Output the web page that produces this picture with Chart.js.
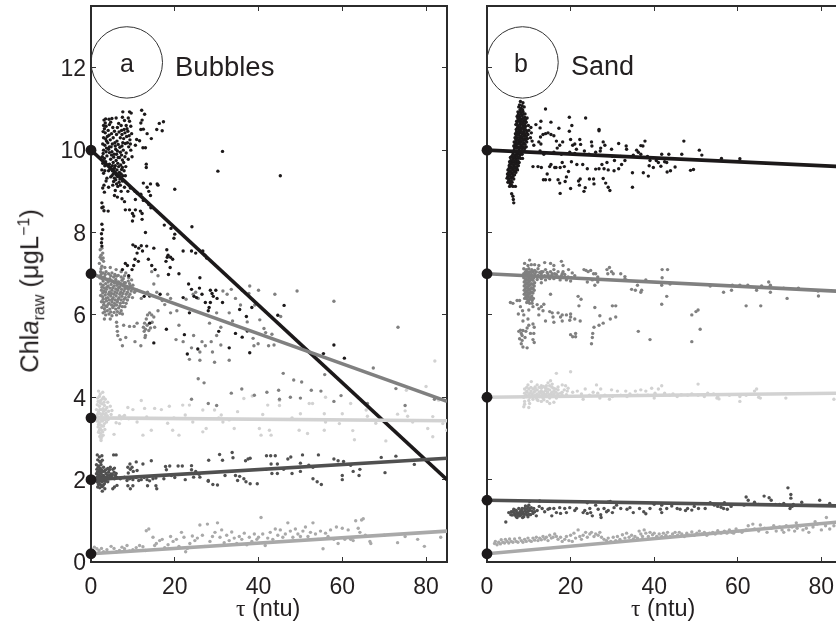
<!DOCTYPE html>
<html lang="en">

<head>
  <meta charset="UTF-8" />
  <title>Chla raw vs turbidity</title>
  <script src="https://cdn.jsdelivr.net/npm/chart.js"></script>
  <style>
    html, body { margin: 0; background: #fff; overflow: hidden; }
    body { width: 836px; height: 624px; position: relative; font-family: "Liberation Sans", sans-serif; color: #231f20; }
    canvas { position: absolute; top: 0; }
    .txt { position: absolute; white-space: nowrap; line-height: 1; }
    .tau { font-family: "Liberation Serif", serif; }
    sub, sup { font-size: 16px; line-height: 0; }
  </style>
</head>

<body>
  <canvas id="bubbles" width="460" height="624" style="left:0"></canvas>
  <canvas id="sand" width="366" height="624" style="left:470px"></canvas>

  <div class="txt" style="left:120px;top:51px;font-size:25px">a</div>
  <div class="txt" style="left:175px;top:53px;font-size:27.5px">Bubbles</div>
  <div class="txt" style="left:514px;top:51px;font-size:25px">b</div>
  <div class="txt" style="left:571px;top:53px;font-size:27px">Sand</div>
  <div class="txt" style="left:236px;top:597px;font-size:23.5px"><span class="tau">τ</span> (ntu)</div>
  <div class="txt" style="left:631px;top:597px;font-size:23.5px"><span class="tau">τ</span> (ntu)</div>
  <div class="txt" style="left:30px;top:291px;font-size:25.5px;transform:translate(-50%,-50%) rotate(-90deg)">Chl<i>a</i><sub>raw</sub> (μgL<sup>−1</sup>)</div>

  <script>
    const xTicksMax = 85;
    const sandXMax = 83.5;
    const yMax = 13.5;

    // fitted lines, [tau, chla] at both ends
    const aLineBlack = [[0, 10], [85, 2]];
    const aLineGray = [[0, 7], [85, 3.9]];
    const aLineLight = [[0, 3.5], [85, 3.43]];
    const aLineDark = [[0, 2], [85, 2.52]];
    const aLineMid = [[0, 0.2], [85, 0.75]];
    const bLineBlack = [[0, 10], [85, 9.6]];
    const bLineGray = [[0, 7], [85, 6.57]];
    const bLineLight = [[0, 4], [85, 4.1]];
    const bLineDark = [[0, 1.5], [85, 1.36]];
    const bLineMid = [[0, 0.2], [85, 0.98]];

    const aStarts = [[0, 10], [0, 7], [0, 3.5], [0, 2], [0, 0.2]];
    const bStarts = [[0, 10], [0, 7], [0, 4], [0, 1.5], [0, 0.2]];
    const aCircle = [[8.55, 12.13]];
    const bCircle = [[8.5, 12.13]];

    // panel a, bubbles
    const aBlack = [
      [7.6,10.93],[9.2,10.93],[9.6,10.9],[12.1,10.97],[12.8,10.87],[12.2,10.73],[11.9,10.66],[12.5,10.51],[11.9,10.5],[16.3,10.65],[17.3,10.69],[15.7,10.5],[17,10.47],
      [13.4,10.4],[14.4,10.28],[10.9,10.26],[11.6,10.23],[10.6,10.12],[12.4,10.06],[13,10.06],[9.8,9.84],[13.2,9.66],[13.2,9.58],[31.4,9.97],[30.3,9.49],[45.2,9.38],
      [3.1,10.73],[3.5,10.76],[4.3,10.75],[5,10.77],[6,10.78],[7.5,10.8],[8,10.72],[8.9,10.78],[9.2,10.7],[3,10.6],[3.6,10.58],[4.4,10.62],[5.2,10.55],[6.6,10.65],[7.2,10.6],[8.4,10.6],[9.5,10.58],
      [2.9,10.45],[3.4,10.42],[4.1,10.48],[4.9,10.4],[5.6,10.46],[6.7,10.44],[7.3,10.48],[8.1,10.42],[8.8,10.46],[9.7,10.4],[3,10.3],[3.5,10.27],[3.9,10.33],[4.6,10.25],[5.3,10.3],[6.2,10.22],[7,10.3],[7.8,10.28],[8.5,10.33],[9.3,10.25],
      [2.8,10.15],[3.3,10.12],[4,10.18],[4.4,10.08],[5.1,10.15],[5.8,10.1],[6.5,10.14],[7.4,10.1],[8.2,10.16],[9,10.08],[3,10],[3.6,9.96],[4.2,10.02],[5,9.96],[5.5,9.9],[6.3,9.98],[7,9.95],[7.7,10],[8.4,9.93],
      [2.7,9.84],[3.2,9.8],[3.8,9.86],[4.7,9.78],[5.4,9.83],[6,9.75],[6.8,9.82],[7.5,9.76],[2.8,9.68],[3.3,9.62],[4.4,9.66],[5.3,9.7],[5.8,9.62],[6.4,9.68],[7.1,9.64],[7.8,9.7],[2.6,9.52],[3,9.44],
      [4.6,9.55],[5.1,9.5],[5.7,9.45],[6.2,9.52],[6.8,9.46],[7.3,9.53],[5,9.38],[5.6,9.32],[6.3,9.36],[6.9,9.3],[7.6,9.38],[5.4,9.24],[6.1,9.18],[6.7,9.22],[12.5,9.2],[13.4,9.1],[14.2,9.18],[15.8,9.18],[20,9.05],[16,9.15],
      [3.1,9.15],[2.8,9.08],[4.2,9.1],[3.2,8.98],[5.8,9.02],[7.2,9],[8,9.1],[8.8,9],[9.4,9.08],[10.5,9],[11,8.96],[11.9,8.93],[13.8,9],[14.2,8.9],[5.6,8.9],[6.3,8.86],[7.4,8.82],[8,8.75],[10.6,8.8],[12.5,8.78],[13.8,8.68],[14.3,8.6],
      [2.6,8.72],[2.9,8.62],[2.6,8.6],[3.1,8.53],[4.1,8.52],[8.2,8.55],[9.2,8.55],[10.6,8.55],[11.8,8.52],[12.2,8.46],[9.9,8.46],[10.2,8.4],[12.2,8.32],[9.9,8.28],
      [2.6,8.2],[2.8,8.07],[2.5,7.97],[2.6,7.85],[2.5,7.75],[2.6,7.67],[13,8],[17.5,8.18],[19.1,8.1],[24.1,8.14],[20,7.96],[19.8,7.86],[18.1,7.58],[18.4,7.45],[19,7.4],
      [10,7.7],[10.6,7.66],[11.4,7.62],[12,7.68],[13.3,7.67],[15,7.62],[12.3,7.55],[11,7.5],[10.5,7.35],[10.2,7.2],[9.8,7.1],[8.7,7.2],[8.2,7.25],[7.5,7.1],[9,6.95],[11.3,7.3],[13.7,7.35],[14.5,7.2],[15.3,7.1],
      [22,7.55],[24,7.55],[25,7.5],[26.7,7.55],[27.2,7.45],[27.6,7.38],[18.2,7.4],[17.9,7.3],[19.5,7.35],[18.9,7.15],[16.5,6.5],[18.5,6.98],[21,7],[26,6.9],[23.3,6.75],[25.9,6.65],
      [12.7,6.45],[14,6.46],[22,6.42],[24,6.62],[24.6,6.45],[25.2,6.42],[26.5,6.5],[28.5,6.6],[28.9,6.52],[29.2,6.45],[28.5,6.3],[28.2,6.18],[29.8,6.6],[30.1,6.4],[27.3,6.3],[28,6.1],[23.5,6.05],[31.4,6.3],
      [35.5,6.13],[38.4,6.18],[46.1,6.23],[44.6,5.99],[37.1,5.96],[37.3,5.61],[36.1,5.46],[37.9,5.08],[55.5,5.06],[58,5.27],[60.5,4.95],[14,5.8],[18,5.65],[22.3,5.52],[15,5.32],[23,5.05],[25.5,5.17],[33,5.2],[30.5,5.6],[34.5,5.55]
    ];
    const aBlackDense = [
      [3.4,10.66],[4.7,10.68],[6.3,10.55],[7.9,10.5],[8.6,10.52],[9.1,10.35],[6.1,10.38],[4.3,10.36],[3.2,10.52],[7.4,10.38],[5.7,10.18],[6.9,10.07],[4.8,10.08],[3.7,10.05],[8.7,10.18],[9.5,10],[7.3,9.88],[8.1,9.84],[8.9,9.78],[3.5,9.72],[4.9,9.88],[5.1,9.62],[6.1,9.9],[6.6,9.6],[7.5,9.58],[8.3,9.6],[4.2,9.5],[3.8,9.32],[4.7,9.35],[5.3,9.42],[6,9.4],[6.6,9.38],[7.2,9.42],[7.9,9.5],[8.2,9.38],[5.2,9.15],[5.9,9.28],[6.4,9.12],[7,9.15],[7.5,9.25],[3.6,9.25],[5.6,9.56],[6.5,9.82],[4.4,9.94],[5.9,10.02],[7.6,10.18],[9.4,10.15],[3.7,10.22],[2.9,9.92],[3.3,9.5]
    ];
    const aGray = [
      [2.2,7.58],[2.4,7.45],[2.8,7.5],[2.5,7.35],[2,7.25],[3,7.3],[2.6,7.18],[3.3,7.15],[4.6,7.15],[6,7.1],[7.2,7.05],[8.3,7.02],[2.3,7.05],[2.9,7.02],[3.6,7.05],[4.2,7],[5,7.02],[5.7,6.98],[6.5,6.96],[7.2,6.92],[8,6.95],[9,6.9],[9.7,6.85],
      [2.1,6.9],[2.6,6.88],[3.2,6.92],[3.8,6.85],[4.5,6.88],[5.2,6.82],[5.9,6.86],[6.6,6.8],[7.4,6.84],[8.2,6.78],[8.9,6.82],[10,6.72],[2.3,6.75],[2.9,6.72],[3.5,6.76],[4.1,6.7],[4.8,6.74],[5.5,6.7],[6.2,6.72],[6.9,6.68],[7.7,6.7],[8.5,6.66],[9.4,6.7],
      [2.5,6.6],[3.1,6.58],[3.7,6.62],[4.4,6.56],[5,6.6],[5.7,6.56],[6.4,6.6],[7.1,6.55],[7.9,6.58],[8.7,6.55],[9.6,6.58],[2.3,6.47],[2.8,6.44],[3.4,6.48],[4,6.42],[4.7,6.46],[5.3,6.42],[6,6.46],[6.7,6.42],[7.4,6.45],[8.2,6.42],[9,6.44],[9.9,6.42],[10.4,6.55],
      [2.5,6.32],[3.1,6.3],[3.7,6.34],[4.3,6.28],[5,6.32],[5.6,6.28],[6.3,6.32],[7,6.28],[7.7,6.3],[8.4,6.28],[2.6,6.18],[3.2,6.15],[3.8,6.2],[4.5,6.14],[5.2,6.18],[5.9,6.14],[6.6,6.17],[7.2,6.1],[2.9,6.05],[3.5,6],[4.3,6.02],[5,5.98],[6.1,6],[7.5,6.02],[3.2,5.9],[4.6,5.9],
      [6.1,5.82],[6.2,5.72],[6.3,5.6],[6.4,5.5],[7.8,5.75],[9.2,5.72],[10.3,5.72],[8.3,5.45],[7,5.4],[10.5,5.35],[11.9,5.25],[7.5,5.25],[11,5.8],[12.8,5.8],[13,5.5],
      [12.5,5.7],[12.7,5.6],[12.9,5.45],[13.2,5.9],[13.5,6],[14,6.05],[14.5,6],[15,5.95],[13.4,5.75],[13.8,5.62],[14.2,5.68],[14.6,5.82],[15.2,5.7],[13,5.65],[16,6.1],[17.6,6.25],[18.3,6.5],[19,6.4],
      [11,6.6],[12,6.4],[13.5,6.55],[15,6.75],[15.7,6.55],[17,6.35],[19,6.05],[20.5,6.1],[16,6.95],[14.5,7.05],[21,5.75],[22.7,6.38],[24.4,6.5],[25,6.55],[25.6,6.4],[20.3,5.4],[22,5.35],[24.5,5.5],[26.5,5.35],[26,5.1],[27.3,5.25],[28.7,5.35],[30,5.5],[31,5.7],[28.3,5.8],
      [31.5,6.58],[32.5,6.5],[33.5,6.62],[34.5,6.4],[33,6.05],[33.8,5.85],[30,6.05],[29,5.1],[31,5.27],[24,5.2],[23.5,4.92],[26,4.9],[29.5,4.85],[33,4.9],
      [36.1,6.6],[37.9,6.7],[40,6.6],[43.9,6.5],[49.2,6.58],[58,6.33],[37.7,6.52],[35.7,6.24],[39.1,6.24],[45.3,5.96],[40.3,5.88],[37.3,5.83],[41.3,5.67],[41.7,5.57],[43.2,5.53],[38.7,5.43],[39.9,5.3],[38.9,5.25],[42.4,5.25],[43.7,5.27],[73.3,5.7],[45.9,4.58],[55.8,4.55],[67.4,4.71],[48.4,4.42],[50.3,4.37],[44.8,4.17],[52.6,4.17],[54.9,4.15],[72.8,4.21],[47.6,4],[59.7,4.04],
      [25.6,4.45],[27,4.35],[33.5,4.1],[36,4.2],[39,4.05],[42,4.12],[45,3.95],[50,3.98],[58,3.9],[66,3.85],[75,3.8],[82,3.95],[24,3.95],[28,3.85],[30,3.8]
    ];
    const aGrayDense = [
      [2.4,6.98],[3.4,6.98],[4.7,6.95],[5.4,6.92],[6.1,6.94],[7.7,6.88],[2.9,6.82],[4.1,6.8],[4.9,6.82],[5.6,6.78],[6.3,6.8],[7,6.77],[7.9,6.78],[9.2,6.76],[2.6,6.67],[3.2,6.65],[3.8,6.68],[4.5,6.65],[5.2,6.66],[5.9,6.63],[6.6,6.66],[7.3,6.62],[8.1,6.64],[8.9,6.62],[2.8,6.53],[3.5,6.55],[4.2,6.5],[4.9,6.52],[5.5,6.5],[6.2,6.53],[6.9,6.5],[7.6,6.52],[8.4,6.5],[9.3,6.5],[2.9,6.38],[3.6,6.4],[4.4,6.36],[5.1,6.38],[5.8,6.36],[6.5,6.38],[7.2,6.36],[7.9,6.38],[8.7,6.36],[3,6.24],[3.5,6.22],[4.1,6.26],[4.9,6.24],[5.5,6.22],[6.1,6.24],[6.9,6.22],[7.5,6.2],[8.1,6.2],[3.3,6.08],[3.9,6.1],[4.7,6.07],[5.5,6.06],[6.3,6.08],[6.9,6.04],[2.4,7.12],[2.2,7.4],[2.6,7.62],[2.9,7.38]
    ];
    const aLight = [
      [1.8,4.15],[2.2,4.08],[2.8,4.12],[3,4],[1.6,3.98],[2.3,3.92],[3.4,3.95],[4,3.88],[1.5,3.82],[2,3.78],[2.6,3.84],[3.2,3.8],[3.8,3.75],[4.6,3.78],[5,3.68],[1.3,3.7],[1.8,3.65],[2.4,3.7],[3,3.66],[3.6,3.62],[4.2,3.66],[4.8,3.58],[1.4,3.55],[1.9,3.52],[2.5,3.56],[3,3.5],[3.6,3.52],[4.1,3.46],
      [1.5,3.42],[2,3.38],[2.6,3.42],[3.2,3.36],[3.7,3.4],[1.7,3.28],[2.2,3.25],[2.7,3.3],[3.3,3.22],[1.8,3.15],[2.3,3.12],[2.8,3.16],[2.4,3],[2.6,3.05],[2.4,2.95],[5.5,3.1],[6,3.38],[6.8,3.55],[7.5,3.52],
      [8.8,3.75],[10,3.7],[12,3.92],[12.8,3.73],[15.2,3.73],[16.8,3.7],[18.7,3.78],[21.9,3.81],[23.5,3.81],[26.7,3.69],[29.5,3.69],[31.1,3.57],[35,3.65],[41,3.58],[42.2,3.81],[45,3.92],[52.1,3.85],[52.9,3.85],[55.7,3.6],[60,3.6],[62,3.85],[65.7,3.69],[73.2,3.59],[75.6,3.54],[80,4.26],[81.6,3.53],[84,3.36],[85,3.2],
      [14.4,3.2],[12.4,3.08],[18.3,3.37],[19.5,3.2],[21,3.08],[26.7,3.16],[27.5,3.24],[34.2,3.24],[40.2,3.24],[42.6,3.2],[40.6,3.08],[43,3.08],[49.7,3.2],[51.7,3.12],[55.7,3.2],[59.3,3.36],[62.9,2.97],[62.5,3.19],[70.4,2.94],[81.6,3.04],[80.4,3.24],[76.8,3.4],[68,3.37],[66,3.54],
      [6.8,3.36],[7.2,3.48],[8,3.56],[24.3,3.4],[31.5,3.4],[50,3.6],[56,3.4],[75,3.67],[83,3.93],[82.1,4.88],[75.3,4.17],[56,4],[36.5,3.97],[38.5,4.03],[45,3.8],[48,3.5],[30.5,3.5],[11,3.4],[9,3.48],[13.3,3.52],[19.8,3.5],[22.5,3.57],[33,3.45]
    ];
    const aLightDense = [
      [2,4.02],[2.7,3.96],[3.1,3.88],[2.2,3.86],[1.7,3.9],[2.9,3.72],[3.5,3.7],[2.1,3.7],[1.6,3.6],[2.2,3.6],[2.8,3.6],[3.3,3.58],[3.9,3.55],[1.7,3.46],[2.3,3.46],[2.9,3.44],[3.4,3.46],[1.8,3.34],[2.4,3.32],[3,3.3],[2,3.2],[2.5,3.2],[2.1,3.05],[2.9,3.08]
    ];
    const aDark = [
      [1.5,2.6],[2,2.55],[2.6,2.58],[1.6,2.48],[2.1,2.44],[2.7,2.47],[5.4,2.6],[6,2.6],[1.3,2.36],[1.8,2.33],[2.4,2.36],[3,2.3],[1.4,2.25],[1.9,2.22],[2.5,2.24],[3.1,2.2],[4,2.27],[4.6,2.3],[5.2,2.25],[1.3,2.14],[1.8,2.12],[2.4,2.15],[3,2.1],[3.6,2.15],[4.2,2.18],[4.8,2.14],[5.5,2.18],[6,2.15],
      [1.4,2.05],[1.9,2.02],[2.5,2.05],[3.1,2],[3.7,2.06],[4.3,2.02],[4.9,2.06],[5.6,2.02],[6.1,2.06],[1.5,1.94],[2,1.9],[2.6,1.94],[3.2,1.9],[1.6,1.82],[2.1,1.8],[2.7,1.83],[3.3,1.78],[4,1.95],[2.7,1.72],[5.2,1.78],[5.6,1.82],[6.2,1.86],
      [7,2.02],[8,2.06],[8.6,1.98],[9.2,2.02],[10,2],[10.8,2.05],[11.4,1.98],[12,2],[12.7,2.05],[13.4,2],[14,1.97],[14.8,2.02],[15.5,2.04],[8.8,1.85],[9.4,1.78],[10,1.85],[13.5,1.85],[15.5,1.85],[15.7,1.78],[8.9,2.16],[9.4,2.25],[10.1,2.2],[11,2.22],
      [8.8,2.3],[9.3,2.38],[9.8,2.3],[10.8,2.43],[12.4,2.38],[14.4,2.46],[17.8,2.32],[18,2.24],[18.8,2.33],[20.8,2.33],[21.8,2.33],[24,2.34],[24,2.24],[25,2.2],[25.8,2.13],[17.4,2.02],[19.2,2.1],[20,2.05],[22.5,2],[24.5,2.06],[26,2.06],[28,1.96],[29.1,1.88],[30.2,1.87],[28,1.98],
      [28.1,2.47],[30.7,2.61],[31.4,2.47],[33.7,2.66],[33.9,2.53],[36.9,2.46],[37.5,2.5],[38,2.52],[41.9,2.58],[42.9,2.58],[44,2.58],[44.5,2.38],[43,2.38],[47,2.5],[47.7,2.55],[50.5,2.6],[50,2.4],[53,2.3],[52,2.35],[54.3,2.6],[58,2.5],[59,2.46],[60.3,2.44],[62,2.35],[60,2.1],[62.6,2.2],[64.2,2.25],
      [32,2.1],[34.5,2.1],[35.5,2.08],[35,1.98],[36.5,2.02],[37,1.95],[38,1.9],[39.7,1.9],[41.8,2.25],[43.2,2.15],[44.5,2.15],[46,2.25],[48,2.15],[50,2.2],[53,2.02],[54,1.95],[55,1.88],[60,2],[64,2.1],[69.3,2.54],[72.8,2.57],[70.2,2.17],[77.2,2.37]
    ];
    const aDarkDense = [
      [1.7,2.3],[2.2,2.28],[1.5,2.18],[2.1,2.18],[2.7,2.2],[3.3,2.22],[1.6,2.08],[2.2,2.08],[2.8,2.1],[3.4,2.06],[4,2.1],[4.5,2.1],[5.1,2.12],[5.8,2.1],[1.7,1.98],[2.3,1.98],[2.9,1.98],[3.5,1.96],[1.8,1.88],[2.4,1.86],[2.9,1.86],[1.9,1.96],[4.4,2.24],[5.6,2.28],[3.6,2.24],[2.3,2.42]
    ];
    const aMid = [
      [0.3,0.28],[0.8,0.36],[1.4,0.32],[1.9,0.28],[2.5,0.33],[3,0.25],[3.8,0.3],[4.8,0.38],[5.5,0.33],[6.1,0.25],[6.8,0.28],[7.4,0.36],[8,0.32],[8.6,0.4],[9.2,0.27],[10,0.3],[10.8,0.35],[11.6,0.4],[12.4,0.37],[13,0.28],[13.2,0.76],[13.8,0.8],[14.8,0.6],[15.2,0.4],[15.6,0.45],[16.4,0.52],[17,0.55],[17.6,0.35],[18.4,0.42],
      [19,0.62],[19.6,0.5],[20.4,0.55],[21,0.38],[21.6,0.72],[22.2,0.6],[22.6,0.25],[23,0.33],[23.6,0.45],[24.2,0.63],[24.8,0.52],[25.4,0.58],[26,0.9],[26.6,0.65],[27.2,0.38],[27.8,0.92],[28.4,0.5],[29,0.62],[29.6,0.72],[30.2,0.95],[30.8,0.6],[31.2,0.78],[31.8,0.47],[32.4,0.65],[33,0.52],[33.6,0.73],[34.2,0.58],
      [34.8,0.45],[35.4,0.62],[36,0.55],[36.6,0.7],[37.2,0.42],[37.8,0.6],[38.4,0.5],[39,0.68],[39.6,0.55],[40,0.6],[40.6,1.08],[41,0.68],[41.6,0.4],[42.2,0.58],[42.8,0.72],[43.4,0.55],[44,0.8],[44.6,0.65],[45.2,0.78],[45.8,0.6],[46.4,0.68],[47,0.95],[47.6,0.75],[48.2,0.6],[48.8,0.8],[49.4,0.68],[50,0.62],[50.6,0.75],
      [51.2,0.85],[51.8,0.62],[52.4,0.72],[53,0.95],[53.6,0.68],[54.2,0.55],[54.8,0.75],[55.4,0.32],[56,0.7],[56.6,0.62],[57.2,0.78],[58,0.55],[58.6,0.85],[59,0.45],[60,0.82],[60.6,0.55],[61.4,0.78],[62,0.55],[62.6,0.52],[63.2,1],[63.8,0.82],[64.2,0.72],[64.6,1.02],[65,1.05],[65.5,0.65],[66.6,0.5],[66.8,0.45],
      [73.2,0.47],[78,0.55],[79.6,0.38],[83.5,0.6],[70,0.65],[75,0.62]
    ];

    // panel b, sand
    const bBlack = [
      [8,11.18],[8.6,11.15],[7.6,11.05],[8.2,11.02],[8.9,11.05],[7.4,10.93],[8,10.92],[8.6,10.94],[9.1,10.88],[7.2,10.82],[7.8,10.82],[8.4,10.84],[9,10.8],[9.6,10.78],[7.1,10.7],[7.6,10.72],[8.2,10.72],[8.8,10.7],[9.4,10.68],[6.9,10.62],[7.4,10.6],[8,10.62],[8.6,10.6],[9.2,10.58],[9.9,10.6],
      [7,10.5],[7.6,10.5],[8.2,10.52],[8.8,10.5],[9.4,10.48],[10,10.48],[6.8,10.4],[7.3,10.4],[7.9,10.42],[8.5,10.4],[9.1,10.38],[9.8,10.38],[10.6,10.42],[6.7,10.3],[7.2,10.3],[7.8,10.3],[8.4,10.3],[9,10.28],[9.7,10.28],[10.4,10.3],[6.5,10.2],[7,10.2],[7.6,10.2],[8.2,10.2],[8.8,10.18],[9.5,10.2],[6.4,10.1],[7,10.1],[7.5,10.08],[8.1,10.1],[8.7,10.08],[9.4,10.08],
      [6.5,10],[7.1,9.98],[7.7,10],[8.2,9.98],[8.8,9.98],[6.2,9.9],[6.7,9.88],[7.3,9.9],[7.9,9.88],[8.4,9.9],[5.6,9.82],[6.2,9.8],[6.8,9.8],[7.4,9.8],[8,9.8],[8.5,9.8],[5.4,9.72],[6,9.7],[6.5,9.72],[7.1,9.7],[7.7,9.7],[5.3,9.62],[5.8,9.6],[6.4,9.62],[7,9.6],[7.5,9.62],[5,9.52],[5.6,9.5],[6.2,9.52],[6.8,9.5],[7.3,9.52],
      [4.9,9.42],[5.4,9.4],[6,9.42],[6.6,9.4],[4.8,9.32],[5.2,9.3],[5.8,9.32],[6.4,9.3],[5,9.22],[5.5,9.2],[6,9.22],[5.4,9.12],[5.9,9.14],[6.8,9.12],[5.9,8.94],[6.2,8.88],[6.3,8.8],[6.4,8.72],
      [14,11],[19.7,10.8],[23.6,10.78],[20.3,10.6],[26.8,10.5],[26.8,10.47],[17.2,10.53],[19.7,10.46],[15.3,10.68],[12.9,10.7],[11.7,10.62],[12.7,10.54],[10.5,10.55],[10.8,10.22],[11.2,10.12],[12.4,10.2],[12.8,10.32],[13.4,10.38],[14,10.4],[14.6,10.42],[15.3,10.38],[16,10.35],[12.9,10.15],[16.6,10.22],[17.4,10.12],[16.8,10.05],[18.1,10.2],[20,10.26],[20.5,10.12],[21,10.15],[22.2,10.26],[22.4,10.14],[21.4,10.02],
      [25,10.2],[25.1,10.1],[27.8,10.2],[28.2,10.12],[27.2,10.05],[27.1,9.98],[31.5,10.16],[29.8,10.02],[33.3,10.1],[33.4,10.02],[35.8,10],[36.2,9.95],[36.8,9.9],[37.3,10.1],[35,9.88],[38.4,9.85],[39,9.75],
      [12.7,9.98],[13.6,9.9],[16,9.95],[17.8,9.9],[19.8,9.95],[21,9.92],[23.3,9.98],[24.4,9.9],[26,9.95],[30,9.85],[32,9.85],[47.1,10.22],[37.8,10.22],[36.8,10.11],[50.8,10],[51.4,9.88],[46.6,9.9],[43.5,9.9],[41.8,9.9],[56.1,9.8],[60.5,9.79],[40.5,9.75],[42.5,9.72],[43,9.7],
      [49.4,9.53],[48.7,9.51],[45,9.59],[43.9,9.5],[43.1,9.47],[41.6,9.61],[38.6,9.37],[37.4,9.45],[34.8,9.45],[34.8,9.1],[29.4,9.02],[29,9.1],[28.4,9.2],[27.8,9.31],[17.5,8.95],[23.2,9],[23.5,9.09],[20,9.07],[22.1,9.15],
      [11,9.6],[12.2,9.6],[13,9.58],[14,9.28],[15,9.28],[14.4,9.42],[13.5,9.28],[15.3,9.65],[15,9.6],[16.2,9.58],[16.5,9.58],[17.5,9.58],[18.5,9.6],[19.5,9.48],[20.2,9.72],[21.5,9.65],[22.9,9.65],[24,9.55],[25.5,9.3],[24.5,9.3],[25.6,9.18],[26,9.54],[26.8,9.55],[28,9.55],[29,9.52],[30.4,9.5],[31.5,9.55],[32.2,9.65],[33,9.75],[17,9.28],[17.4,9.2],[18.7,9.24],[19,9.35],[21.9,9.25],[22.3,9.3],[28.7,9.7],[27.5,9.65],[30.5,9.75],[18,9.7],
      [38.8,9.62],[39.8,9.58],[41,9.7]
    ];
    const bBlackDense = [
      [7.8,11.1],[8.4,11.08],[7.9,10.98],[8.5,10.98],[7.5,10.87],[8.2,10.88],[8.8,10.88],[7.4,10.77],[8,10.77],[8.6,10.77],[9.2,10.74],[7.2,10.66],[7.9,10.67],[8.5,10.66],[9.1,10.64],[7.3,10.55],[7.9,10.56],[8.5,10.55],[9.1,10.54],[7.1,10.45],[7.6,10.45],[8.2,10.46],[8.8,10.44],[9.5,10.43],[7,10.35],[7.6,10.36],[8.2,10.35],[8.8,10.34],[9.4,10.33],[6.9,10.25],[7.4,10.25],[8,10.25],[8.6,10.24],[9.2,10.24],[6.7,10.15],[7.3,10.15],[7.9,10.15],[8.5,10.14],[9.1,10.14],[6.6,10.05],[7.2,10.05],[7.8,10.05],[8.4,10.04],[9,10.04],[6.4,9.95],[7,9.94],[7.6,9.94],[8.2,9.93],[5.9,9.85],[6.5,9.84],[7.1,9.85],[7.7,9.84],[5.7,9.75],[6.3,9.75],[6.9,9.75],[7.4,9.74],[5.5,9.66],[6.1,9.66],[6.7,9.66],[7.3,9.66],[5.3,9.56],[5.9,9.56],[6.5,9.56],[7.1,9.56],[5.2,9.46],[5.7,9.46],[6.3,9.46],[6.9,9.46],[5,9.36],[5.6,9.36],[6.2,9.36],[5.2,9.26],[5.8,9.26],[5.6,9.16],[6.2,9.12]
    ];
    const bGray = [
      [10.2,7.33],[9,7.25],[9.8,7.2],[10.6,7.22],[11.4,7.22],[12.4,7.2],[13.8,7.27],[15.2,7.25],[16,7.2],[17.8,7.3],[18.2,7.2],[8.8,7.12],[9.4,7.1],[10,7.12],[10.7,7.1],[11.4,7.08],[12.2,7.12],[13,7.05],[14,7.1],[15.2,7.05],[16,7.1],[17,7.05],[18.2,7.05],[19.5,7.1],[20.4,7.02],
      [8.8,7],[9.4,7],[10,7],[10.6,6.98],[11.4,7],[12.2,6.96],[13,7],[13.8,6.95],[14.6,6.98],[15.4,6.95],[16.2,7],[17,6.92],[17.8,6.95],[18.6,6.98],[19.4,6.92],[20.2,6.9],[21,6.95],[8.8,6.9],[9.4,6.88],[10,6.9],[10.6,6.88],[11.2,6.9],[12,6.86],[13,6.88],[14,6.85],[15,6.88],[16,6.88],[17.5,6.85],[19,6.85],[20,6.82],
      [8.9,6.8],[9.5,6.78],[10.1,6.8],[10.7,6.76],[11.4,6.78],[13,6.78],[8.9,6.7],[9.5,6.68],[10.1,6.7],[10.7,6.66],[11.3,6.7],[8.9,6.6],[9.5,6.58],[10.1,6.6],[10.7,6.56],[11.3,6.6],[8.9,6.5],[9.5,6.48],[10.1,6.5],[10.7,6.46],[11.1,6.4],[9,6.4],[9.6,6.38],[10.2,6.38],[10.8,6.35],[9.5,6.3],[10.2,6.28],[10.8,6.28],
      [23.2,7.1],[23.7,7.08],[24.2,7.05],[24.8,7.08],[25.5,7],[26,7],[26.5,6.92],[28.7,7.1],[28.9,7],[29.3,7.15],[29.8,7.05],[30.2,7],[25.2,6.85],[26.5,6.8],[24,6.8],[25.8,6.72],[32,7],[33,6.93],[33,6.87],[33.4,6.84],[38,6.85],[41.9,7.1],[43.2,7.1],[41.9,6.9],[43.8,6.75],[36,6.72],[35.5,6.6],[34.6,6.62],[37,6.6],[36.8,6.55],[41.8,6.72],[43,6.45],
      [53.4,6.7],[58.5,6.6],[58.7,6.72],[60.5,6.72],[62.4,6.72],[64.5,6.6],[65.7,6.7],[67.4,6.8],[67.8,6.72],[67.8,6.55],[71,6.65],[74.5,6.65],[79.2,6.58],[79.3,6.46],[71.8,6.4],[62,6.22],[65.5,6.22],[56.6,6.55],
      [5.6,6.3],[6.2,6.28],[7.2,6.35],[7.8,6.35],[8,6.2],[15.2,6.5],[13.6,6.26],[21.8,6.45],[22.5,6.38],[22,6.22],[25.8,6.18],[30,6.22],[30.8,6.22],[41.8,6.26],[50.5,6.12],[50,6.08],[49,6],
      [12,6.25],[11,6.2],[10,6.12],[12.4,6.15],[13,6.2],[13.4,6.1],[12.4,6],[8.8,6],[7.5,6.02],[8.5,6.1],[15.6,6.05],[15,6.08],[17,6.05],[15.8,5.95],[17.6,5.95],[18,6],[19,6],[18,5.85],[20,5.95],[19.8,5.87],[16,5.82],[14,5.85],[21,5.9],[20,6.02],[22.3,5.85],
      [8.6,5.85],[9.8,5.9],[11,5.78],[10,5.75],[9.6,5.68],[8,5.63],[7.6,5.6],[8.2,5.55],[8.6,5.62],[9.3,5.6],[8.4,5.5],[7.8,5.42],[8.4,5.38],[9.1,5.45],[8.2,5.3],[8.6,5.22],[9.6,5.2],[10.4,5.55],[11.3,5.7],[11.2,5.55],[11,5.4],[11.3,5.33],
      [20,5.52],[21.2,5.55],[20.5,5.47],[21.2,5.47],[25,5.3],[25.2,5.45],[25.3,5.55],[25.6,5.7],[26.8,5.75],[27.8,5.8],[29.5,5.9],[30.8,5.95],[27,5.98],[36.2,5.6],[39,5.4],[49,5.35],[51,5.65]
    ];
    const bGrayDense = [
      [9.2,7.05],[9.7,7.05],[10.3,7.05],[10.9,7.04],[9.1,6.94],[9.7,6.94],[10.3,6.94],[10.9,6.94],[9.2,6.84],[9.8,6.84],[10.4,6.84],[11,6.84],[9.2,6.74],[9.8,6.74],[10.4,6.74],[11,6.74],[9.2,6.64],[9.8,6.64],[10.4,6.63],[11,6.64],[9.2,6.54],[9.8,6.54],[10.4,6.54],[11,6.53],[9.3,6.44],[9.9,6.44],[10.5,6.42],[9.9,6.33],[11.8,7.04],[12.6,7.03],[13.4,7.05],[14.4,7.03],[15.6,7],[16.6,6.98],[18,7],[12.5,6.92],[13.5,6.92],[14.5,6.92],[16,6.92]
    ];
    const bLight = [
      [10.6,4.38],[16.6,4.58],[20,4.62],[12,4.3],[13,4.28],[9.8,4.3],[14.6,4.35],[15.2,4.4],[15.6,4.32],[14,4.22],[11.5,4.25],[13,4.22],[14.2,4.28],[15,4.28],[15.9,4.22],[17,4.25],[18,4.3],[18.8,4.28],[19.4,4.22],[9,4.2],[10,4.2],[11,4.2],[12,4.18],[13,4.15],[14,4.16],[15,4.18],[16,4.15],[17,4.18],[18,4.12],[19.2,4.15],
      [9,4.1],[9.6,4.12],[10.4,4.1],[11.2,4.12],[12,4.08],[12.8,4.1],[13.6,4.08],[14.4,4.1],[15.2,4.08],[16,4.08],[17,4.08],[18,4.05],[19,4.06],[8.8,4],[9.4,4.02],[10.2,4],[11,4.03],[11.8,3.98],[12.6,4.02],[13.4,3.98],[14.2,4.03],[15,3.98],[15.8,4.02],[16.6,3.98],[9,3.9],[10,3.92],[11,3.95],[12.2,3.92],[13,3.9],[14.4,3.9],[15,3.85],[16,3.88],[9,3.83],[10.2,3.85],[8.8,3.77],[10,3.75],
      [20.5,4.12],[21.6,4.15],[22.6,4.08],[23.5,4.2],[24.5,4.05],[25.4,4.12],[26.2,4.3],[26.5,4.1],[27.2,4.2],[28.2,4.05],[29.8,4.18],[30,4.02],[31.2,4.15],[32,4.05],[33.2,4.15],[33.5,4.02],[34.2,4.08],[35.5,4.15],[36,4.05],[36.8,4.18],[38,4.15],[38.5,4.05],[39.4,4.22],[40.2,4.1],[41.8,4.28],[41,4.2],[42.5,4.1],[43.6,4.05],[44.5,4.08],[45.5,4.02],[46.5,4.06],
      [48,4.05],[49,4.08],[50.5,4.32],[50.5,4.05],[52,4.02],[52.8,4.1],[54.2,4.08],[55,3.98],[55.2,4.02],[55.5,3.96],[58,4.05],[60.5,4.02],[60.5,3.9],[62,4.05],[64,4.15],[64.5,4.2],[65,4],[65.4,3.98],[71.5,3.98],[83,3.95],[27,3.98],[23,3.95],[29.3,3.95],[40,3.98]
    ];
    const bLightDense = [
      [9.5,4.24],[10.5,4.24],[11.5,4.22],[12.5,4.24],[13.5,4.26],[14.5,4.2],[15.5,4.25],[16.4,4.2],[9.5,4.15],[10.5,4.15],[11.5,4.15],[12.5,4.13],[13.5,4.12],[14.5,4.13],[15.5,4.12],[16.5,4.12],[9.3,4.05],[10,4.06],[10.8,4.07],[11.6,4.05],[12.4,4.05],[13.2,4.05],[14,4.06],[14.8,4.05],[15.6,4.05],[16.6,4.04],[17.6,4.1],[18.5,4.18],[12,3.94],[13.6,3.94]
    ];
    const bDark = [
      [4.5,0.97],[5.2,1.2],[5.7,1.15],[6.2,1.22],[6.6,1.14],[7,1.25],[7.4,1.18],[7.8,1.12],[8.2,1.25],[8.6,1.18],[9,1.3],[9.4,1.2],[9.8,1.1],[10.2,1.25],[10.6,1.32],[11,1.18],[6.4,1.28],[7.6,1.3],[8.8,1.1],[9.2,1.36],[10,1.38],[11.2,1.3],[11.8,1.12],[10.4,1.15],[8,1.18],[9.6,1.28],[7.2,1.08],
      [12,1.25],[12.5,1.35],[13.2,1.3],[13.8,1.22],[14.6,1.28],[15,1.3],[15.5,1.12],[16,1.3],[16.6,1.2],[17.4,1.32],[17.6,1.18],[18.6,1.3],[19,1.2],[19.8,1.32],[21,1.25],[21.4,1.3],[23,1.2],[23.4,1.25],[24,1.18],[24.6,1.3],[24.8,1.2],[25.2,1.12],[26,1.38],[26.6,1.28],[27.2,1.15],[27.3,1.08],[28,1.3],[28.6,1.22],[29,1.25],[30,1.2],[30.4,1.32],[31,1.38],[32,1.3],[33.5,1.28],[34.2,1.32],[35,1.2],
      [36.5,1.3],[37.5,1.22],[38,1.17],[39,1.3],[40,1.4],[41.8,1.38],[41.8,1.2],[41.5,1.28],[43,1.3],[44.2,1.36],[45.5,1.3],[46.2,1.28],[47.5,1.25],[48,1.3],[49,1.26],[49.6,1.35],[50.6,1.3],[52.2,1.3],[53.4,1.44],[54.4,1.38],[55.2,1.35],[56,1.33],[56.6,1.3],[56.8,1.44],[57.5,1.28],[58.4,1.35],
      [10.2,1.47],[12.6,1.48],[24,1.44],[29,1.46],[29.5,1.47],[62,1.58],[62.5,1.5],[64,1.45],[65,1.4],[66.3,1.6],[67.5,1.56],[68,1.5],[69,1.4],[70,1.4],[71,1.42],[72,1.8],[72.7,1.64],[72.7,1.55],[72.5,1.3],[73.3,1.4],[75.3,1.45],[79.6,1.5],[82,1.42],[73,1.35],[61.5,1.38]
    ];
    const bDarkDense = [
      [5.8,1.22],[6.5,1.2],[7.2,1.2],[7.9,1.22],[8.5,1.22],[9.1,1.24],[9.7,1.22],[10.3,1.3],[6,1.14],[6.9,1.16],[7.5,1.14],[8.2,1.15],[8.9,1.16],[9.5,1.15],[10.1,1.16],[10.8,1.24],[11.4,1.22],[6.8,1.26],[8.4,1.3],[9.8,1.33],[7,1.1],[8.5,1.08]
    ];
    const bMid = [
      [1.8,0.45],[2,0.5],[2.4,0.42],[2.8,0.48],[3.2,0.44],[3.4,0.54],[3.8,0.48],[4.2,0.46],[4.4,0.55],[4.8,0.5],[5.2,0.46],[5.4,0.56],[5.8,0.5],[6.2,0.48],[6.6,0.56],[7,0.5],[7.4,0.48],[7.8,0.58],[8.2,0.52],[8.6,0.48],[9,0.55],[9.4,0.5],[9.8,0.58],[10.2,0.52],[10.6,0.5],[11,0.58],[11.4,0.53],[11.8,0.6],[12.2,0.52],
      [12.6,0.58],[13,0.54],[13.4,0.62],[13.8,0.56],[14.2,0.6],[14.6,0.52],[15,0.65],[15.4,0.58],[15.8,0.6],[16.2,0.68],[16.6,0.62],[17,0.55],[17.6,0.6],[18,0.5],[18.6,0.55],[19,0.62],[19.6,0.52],[20,0.65],[20.4,0.5],[20.8,0.7],[21.2,0.58],[21.8,0.78],[22.2,0.62],[22.6,0.55],[23,0.65],[23.6,0.72],[24,0.6],[24.6,0.68],[25,0.72],[25.6,0.62],[26,0.68],[26.6,0.65],[27,0.72],[27.4,0.6],
      [28,0.55],[28.6,0.52],[29,0.58],[29.6,0.5],[30.2,0.6],[30.8,0.52],[31.2,0.62],[31.8,0.55],[32.4,0.66],[33,0.58],[33.4,0.7],[34,0.6],[34.6,0.65],[35,0.56],[35.4,0.62],[36,0.58],[36.4,0.75],[36.8,0.68],[37.2,0.62],[37.6,0.78],[38,0.7],[38.6,0.62],[39,0.72],[39.6,0.66],[40,0.7],[40.6,0.62],[41.2,0.68],[41.8,0.62],[42.2,0.7],[42.8,0.65],[43.2,0.72],[43.8,0.62],[44.4,0.68],[45,0.72],[45.6,0.65],[46,0.72],
      [46.6,0.68],[47.2,0.62],[47.8,0.7],[48.4,0.65],[49,0.73],[49.6,0.65],[50.2,0.7],[50.8,0.75],[51.4,0.68],[52,0.72],[52.6,0.65],[53.2,0.7],[54,0.72],[54.6,0.68],[55.2,0.76],[56,0.7],[56.8,0.75],[57.4,0.7],[58,0.78],[58.6,0.72],[59,0.7],[59.6,0.8],[60.2,0.75],[61,0.72],[62,0.78],[63.6,0.92],[65.4,0.9],[64,0.8],[65,0.75],[66.4,0.82],
      [67,0.72],[68,0.82],[68.6,0.88],[69.2,0.75],[70,0.85],[70.6,0.78],[71,0.72],[71.6,0.88],[72.2,0.78],[73,0.85],[73.6,0.75],[74.2,0.82],[75,0.88],[75.6,0.78],[76.4,0.82],[77,0.72],[78,0.85],[79,0.92],[81.2,1.08],[80,0.78],[81,0.88],[82,0.8],[83,0.88],[78.5,0.98],[74,0.95],[62.5,0.88]
    ];

    const colBlack = '#1c191a';
    const colGray = '#808080';
    const colLight = '#d2d2d2';
    const colDark = '#505050';
    const colMid = '#a9a9a9';

    function dots(points, color) {
      return { data: points.map(p => ({ x: p[0], y: p[1] })), backgroundColor: color, borderWidth: 0, pointRadius: 1.7, order: 3 };
    }

    function line(points, color) {
      return { data: points.map(p => ({ x: p[0], y: p[1] })), showLine: true, borderColor: color, borderWidth: 3.6, pointRadius: 0, order: 2 };
    }

    function sideScale(position, max, step, showLabels, padding, size) {
      const upright = position === 'left' || position === 'right';
      return {
        position: position,
        min: 0,
        max: max,
        afterFit: function (axis) {
          if (upright) axis.width = size;
          else axis.height = size;
          // keep the plot box where the axes say, no room for half labels
          axis.paddingLeft = axis.paddingRight = axis.paddingTop = axis.paddingBottom = 0;
        },
        ticks: {
          stepSize: step,
          includeBounds: false,
          maxRotation: 0,
          autoSkip: false,
          display: showLabels,
          padding: padding,
          labelOffset: upright ? 2 : 0,
          color: '#231f20',
          font: { family: '"Liberation Sans"', size: 23 }
        },
        grid: { drawOnChartArea: false, tickLength: -5, tickWidth: 1, tickColor: '#333' },
        border: { display: true, color: '#2b2b2b', width: 2 }
      };
    }

    function makePanel(id, xMax, sets, yLabels, leftSize, rightSize) {
      const scales = {
        x: sideScale('bottom', xMax, 20, true, 17, 62),
        x2: sideScale('top', xMax, 20, false, 0, 6),
        y: sideScale('left', yMax, 2, yLabels, 10, leftSize)
      };
      if (rightSize) scales.y2 = sideScale('right', yMax, 2, false, 0, rightSize);
      new Chart(document.getElementById(id), {
        type: 'scatter',
        data: { datasets: sets },
        options: {
          responsive: false,
          animation: false,
          layout: { padding: 0, autoPadding: false },
          plugins: { legend: { display: false }, tooltip: { enabled: false }, title: { display: false } },
          scales: scales
        }
      });
    }

    function marks(starts, circle) {
      return [
        { data: starts.map(p => ({ x: p[0], y: p[1] })), backgroundColor: colBlack, borderWidth: 0, pointRadius: 5.4, clip: false, order: 0 },
        { data: circle.map(p => ({ x: p[0], y: p[1] })), backgroundColor: 'rgba(0,0,0,0)', borderColor: '#333', borderWidth: 1, pointRadius: 35.7, clip: false, order: 1 }
      ];
    }

    makePanel('bubbles', xTicksMax, [
      dots(aBlack.concat(aBlackDense), colBlack), dots(aGray.concat(aGrayDense), colGray), dots(aLight.concat(aLightDense), colLight), dots(aDark.concat(aDarkDense), colDark), dots(aMid, colMid),
      line(aLineGray, colGray), line(aLineLight, colLight), line(aLineDark, colDark), line(aLineMid, colMid), line(aLineBlack, colBlack)
    ].concat(marks(aStarts, aCircle)), true, 91, 13);

    makePanel('sand', sandXMax, [
      dots(bBlack.concat(bBlackDense), colBlack), dots(bGray.concat(bGrayDense), colGray), dots(bLight.concat(bLightDense), colLight), dots(bDark.concat(bDarkDense), colDark), dots(bMid, colMid),
      line(bLineGray, colGray), line(bLineLight, colLight), line(bLineDark, colDark), line(bLineMid, colMid), line(bLineBlack, colBlack)
    ].concat(marks(bStarts, bCircle)), false, 17, 0);
  </script>
</body>

</html>
